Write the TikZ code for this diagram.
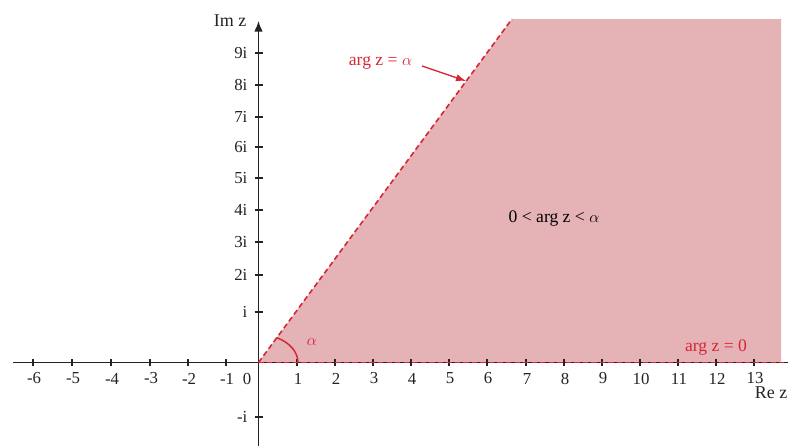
\documentclass[tikz,border=0pt]{standalone}
\usepackage{fontspec}
\setmainfont{Liberation Serif}
\usetikzlibrary{arrows.meta}
\definecolor{regionpink}{RGB}{229,178,182}
\definecolor{argred}{RGB}{214,38,52}
\definecolor{axisgray}{RGB}{35,35,35}
\tikzset{
  axisline/.style={draw=axisgray, line width=1.1pt},
  tickmark/.style={draw=axisgray, line width=1pt},
  ticklab/.style={font=\fontsize{12.6}{14}\selectfont, text=axisgray, inner sep=1pt},
  axislab/.style={font=\fontsize{13.5}{15}\selectfont, text=axisgray, inner sep=1pt},
  boundline/.style={draw=argred, line width=1.2pt, dash pattern=on 4pt off 2.4pt},
  redlab/.style={font=\fontsize{13.2}{15}\selectfont, text=argred, inner sep=1pt},
  blacklab/.style={font=\fontsize{13.2}{15}\selectfont, text=black, inner sep=1pt},
}
\begin{document}
\begin{tikzpicture}[x=0.75pt,y=-0.75pt]
\useasboundingbox (0,0) rectangle (788,446);
% region
\coordinate (O) at (258.5,362.5);
\coordinate (T) at (512,19);
\coordinate (TR) at (781,19);
\coordinate (BR) at (781,362.5);
\fill[regionpink] (O) -- (T) -- (TR) -- (BR) -- cycle;
% axes
\coordinate (xl) at (13,362.5);
\coordinate (xr) at (788,362.5);
\coordinate (yb) at (258.5,446);
\coordinate (yt) at (258.5,21);
\draw[axisline] (xl) -- (xr);
\draw[axisline,-{Latex[length=8pt,width=6.5pt]}] (yb) -- (yt);
% x ticks
\foreach \xp/\lab in {33/-6,72/-5,111/-4,150/-3,188/-2,226/-1,297/1,335/2,373/3,411/4,449/5,487/6,526/7,564/8,602/9,640/10,678/11,716/12,754/13}{
  \draw[tickmark] (\xp,359) -- (\xp,366);
  \node[ticklab] (xt\xp) at (\xp+1,378.5) {\lab};
}
\node[ticklab] (xzero) at (247,378.5) {0};
% y ticks
\foreach \yp/\lab in {53/9i,85/8i,117/7i,147/6i,178/5i,210/4i,242/3i,275/2i,312/i,417/-i}{
  \draw[tickmark] (254.5,\yp) -- (263,\yp);
  \node[ticklab, anchor=east] (yt\yp) at (249,\yp) {\lab};
}
% axis labels
\node[axislab] (imz) at (230,21) {Im z};
\node[axislab] (rez) at (771,393) {Re z};
% boundary rays
\draw[boundline] (O) -- (T);
\draw[boundline] (O) -- (xr);
% angle arc
\draw[argred, line width=1.1pt] ([xshift=29.6pt]O) arc[start angle=0, end angle=62.5, x radius=29.6pt, y radius=21pt];
\node[redlab] (alph) at (312,342) {$\alpha$};
% labels
\node[redlab] (argalpha) at (380.5,63) {arg z = $\alpha$};
\coordinate (arrS) at (422,66);
\coordinate (arrE) at (466,81);
\draw[argred, line width=1pt, -{Latex[length=7.5pt,width=5.5pt]}] (arrS) -- (arrE);
\node[blacklab] (region) at (554,219) {0 < arg z < $\alpha$};
\node[redlab] (argzero) at (716,348) {arg z = 0};
\end{tikzpicture}
\end{document}
